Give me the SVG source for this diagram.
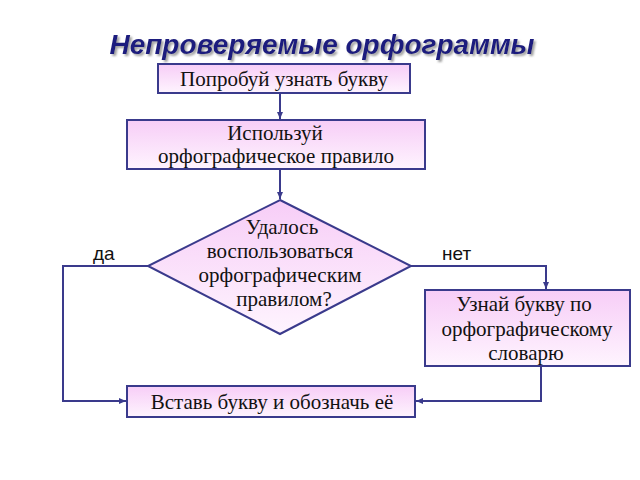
<svg xmlns="http://www.w3.org/2000/svg" width="640" height="480" viewBox="0 0 640 480">
<defs>
<linearGradient id="g" x1="0" y1="0" x2="0" y2="1">
<stop offset="0" stop-color="#f7cdf7"/>
<stop offset="1" stop-color="#fef4fe"/>
</linearGradient>
<marker id="a" markerWidth="8" markerHeight="8" refX="7" refY="4" orient="auto" markerUnits="userSpaceOnUse">
<path d="M0,1 L7,4 L0,7 Z" fill="#3a3a8c"/>
</marker>
<filter id="sh" x="-5%" y="-20%" width="110%" height="140%">
<feDropShadow dx="2" dy="2" stdDeviation="0.8" flood-color="#888" flood-opacity="0.8"/>
</filter>
</defs>
<style>
.n{fill:url(#g);stroke:#3a3a8c;stroke-width:2}
.t{font-family:"Liberation Serif",serif;font-size:21px;fill:#111;text-anchor:middle}
.c{fill:none;stroke:#3a3a8c;stroke-width:2}
.l{font-family:"Liberation Sans",sans-serif;font-size:19px;fill:#111}
</style>
<rect width="640" height="480" fill="#fff"/>
<text x="322" y="54" text-anchor="middle" font-family="Liberation Sans,sans-serif" font-size="28" font-weight="bold" font-style="italic" fill="#1f1f7e" filter="url(#sh)">Непроверяемые орфограммы</text>
<g id="connectors">
<path class="c" d="M280,93 V119" marker-end="url(#a)"/>
<path class="c" d="M280,169 V199" marker-end="url(#a)"/>
<path class="c" d="M148,266 H63 V401 H126" marker-end="url(#a)"/>
<path class="c" d="M411,266 H546 V289" marker-end="url(#a)"/>
<path class="c" d="M541,366 V401 H416" marker-end="url(#a)"/>
<text class="l" x="93" y="260">да</text>
<text class="l" x="442" y="260">нет</text>
</g>
<g id="n1"><rect class="n" x="158" y="64" width="252" height="29"/><text class="t" x="284" y="86">Попробуй узнать букву</text></g>
<g id="n2"><rect class="n" x="127" y="120" width="298" height="49"/><text class="t" x="275" y="140">Используй</text><text class="t" x="276" y="163">орфографическое правило</text></g>
<g id="n3"><polygon class="n" points="280,200 411,266 280,334 148,266"/>
<text class="t" x="282" y="234">Удалось</text>
<text class="t" x="280" y="258">воспользоваться</text>
<text class="t" x="280" y="282">орфографическим</text>
<text class="t" x="284" y="306">правилом?</text></g>
<g id="n4"><rect class="n" x="425" y="290" width="205" height="76"/>
<text class="t" x="524" y="311">Узнай букву по</text>
<text class="t" x="527" y="336">орфографическому</text>
<text class="t" x="526" y="360">словарю</text></g>
<g id="n5"><rect class="n" x="127" y="386" width="288" height="31"/><text class="t" x="272" y="409">Вставь букву и обозначь её</text></g>
</svg>
